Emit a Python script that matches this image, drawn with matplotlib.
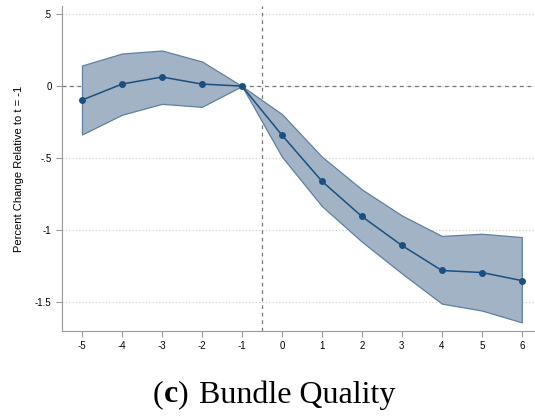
import numpy as np
import matplotlib.pyplot as plt

plt.rcParams['font.family'] = ['Liberation Sans', 'DejaVu Sans']

# event-time coefficients with 95% confidence bands
periods = [-5, -4, -3, -2, -1, 0, 1, 2, 3, 4, 5, 6]
coef = [-0.097, 0.014, 0.063, 0.014, 0.0, -0.34, -0.66, -0.905, -1.106, -1.28, -1.294, -1.35]
ci_upper = [0.143, 0.226, 0.247, 0.171, 0.0, -0.194, -0.49, -0.717, -0.898, -1.04, -1.025, -1.048]
ci_lower = [-0.336, -0.199, -0.123, -0.144, 0.0, -0.49, -0.833, -1.08, -1.30, -1.51, -1.558, -1.64]

y_ticks = [0.5, 0, -0.5, -1, -1.5]
y_tick_labels = ['.5', '0', '-.5', '-1', '-1.5']

fig = plt.figure(figsize=(5.35, 4.16), dpi=100)
ax = fig.add_axes([62 / 535, 85 / 416, 473 / 535, 325 / 416])

ax.fill_between(periods, ci_lower, ci_upper, facecolor='#a2b3c5',
                edgecolor='#5f80a3', linewidth=0.9, zorder=2)
ax.plot(periods, coef, color='#1a4f82', linewidth=1.1, marker='o',
        markersize=4, zorder=3)

ax.axhline(0, color='#777777', linestyle=(0, (3, 3)), linewidth=0.9, zorder=1)
ax.axvline(-0.5, color='#777777', linestyle=(0, (3, 3)), linewidth=0.9, zorder=1)

ax.set_xlim(-5.5, 6.33)
ax.set_ylim(-1.70, 0.556)
ax.set_xticks(periods)
ax.set_xticklabels([str(p) for p in periods])
ax.set_yticks(y_ticks)
ax.set_yticklabels(y_tick_labels)
ax.yaxis.grid(True, color='#cccccc', linestyle=(0, (1, 2)), linewidth=0.8)
ax.set_axisbelow(True)

for side in ['top', 'right']:
    ax.spines[side].set_visible(False)
for side in ['left', 'bottom']:
    ax.spines[side].set_color('#999999')
    ax.spines[side].set_linewidth(0.8)
ax.tick_params(axis='both', colors='#999999', labelcolor='black',
               labelsize=7, length=4, width=0.8)

ax.set_ylabel('Percent Change Relative to t = -1', fontsize=8, labelpad=8)

# subfigure caption: "(c)" with a bold letter, then the panel title
renderer = fig.canvas.get_renderer()
x = 153
for piece, weight in [('(', 'normal'), ('c', 'bold'), (')', 'normal')]:
    t = fig.text(x / 535, 21 / 416, piece, ha='left', va='center', fontsize=23,
                 family='Liberation Serif', weight=weight)
    x = t.get_window_extent(renderer).x1
fig.text(199 / 535, 21 / 416, 'Bundle Quality', ha='left', va='center',
         fontsize=23, family='Liberation Serif')

fig.savefig('out.png', dpi=100)
